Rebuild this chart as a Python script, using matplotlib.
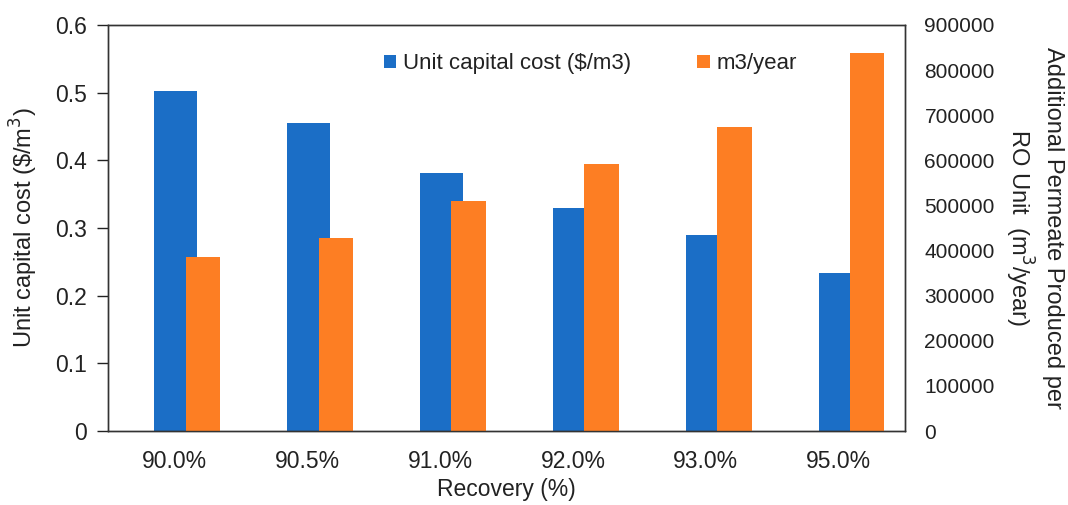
import numpy as np
import matplotlib.pyplot as plt

# Recovery levels and the two series
recovery = ["90.0%", "90.5%", "91.0%", "92.0%", "93.0%", "95.0%"]
unit_cost = [0.503, 0.455, 0.381, 0.330, 0.290, 0.233]          # $/m3
permeate = [386000, 428500, 510000, 592000, 674000, 838500]     # m3/year

blue = "#1B6EC6"
orange = "#FD7E23"
txt = "#222222"

plt.rcParams["font.family"] = ["Liberation Sans", "DejaVu Sans"]
plt.rcParams["font.size"] = 16

fig = plt.figure(figsize=(10.68, 5.05), dpi=100)
ax = fig.add_axes([0.1011, 0.1465, 0.7463, 0.804])
ax2 = ax.twinx()

x = np.arange(len(recovery))
ax.bar(x + 0.01, unit_cost, width=0.32, color=blue, label="Unit capital cost ($/m3)", zorder=2)
ax2.bar(x + 0.215, permeate, width=0.26, color=orange, label="m3/year", zorder=2)

ax.set_xlim(-0.5, len(recovery) - 0.5)
ax.set_ylim(0, 0.6)
ax.set_yticks(np.arange(0, 0.61, 0.1))
ax.set_yticklabels(["0"] + [f"{v:.1f}" for v in np.arange(0.1, 0.61, 0.1)])
ax2.set_ylim(0, 900000)
ax2.set_yticks(np.arange(0, 900001, 100000))
ax2.set_yticklabels([str(v) for v in range(0, 900001, 100000)])

ax.set_xticks(x)
ax.set_xticklabels(recovery)
ax.tick_params(axis="x", length=0, pad=14, colors=txt, labelsize=16.5)
ax.tick_params(axis="y", length=8, width=1, direction="out", pad=7, colors=txt, labelsize=16.5)
ax2.tick_params(axis="y", length=0, pad=14, colors=txt, labelsize=15)

for a in (ax, ax2):
    for s in a.spines.values():
        s.set_color("#333333")
        s.set_linewidth(1.0)

ax.set_xlabel("Recovery (%)", color=txt, fontsize=16.5, labelpad=3)
ax.set_ylabel("Unit capital cost (\\$/m$^3$)", color=txt, fontsize=17, labelpad=11)
ax2.set_ylabel("Additional Permeate Produced per\nRO Unit  (m$^3$/year)", color=txt,
               fontsize=17, rotation=270, labelpad=50, linespacing=1.3)

h1, l1 = ax.get_legend_handles_labels()
h2, l2 = ax2.get_legend_handles_labels()
ax2.legend(h1 + h2, l1 + l2, loc="center", bbox_to_anchor=(0.605, 0.905), ncol=2,
           frameon=False, handlelength=0.55, handleheight=0.55, handletextpad=0.3,
           columnspacing=3.0, fontsize=16, labelcolor=txt)

fig.savefig("out.png", dpi=100)
